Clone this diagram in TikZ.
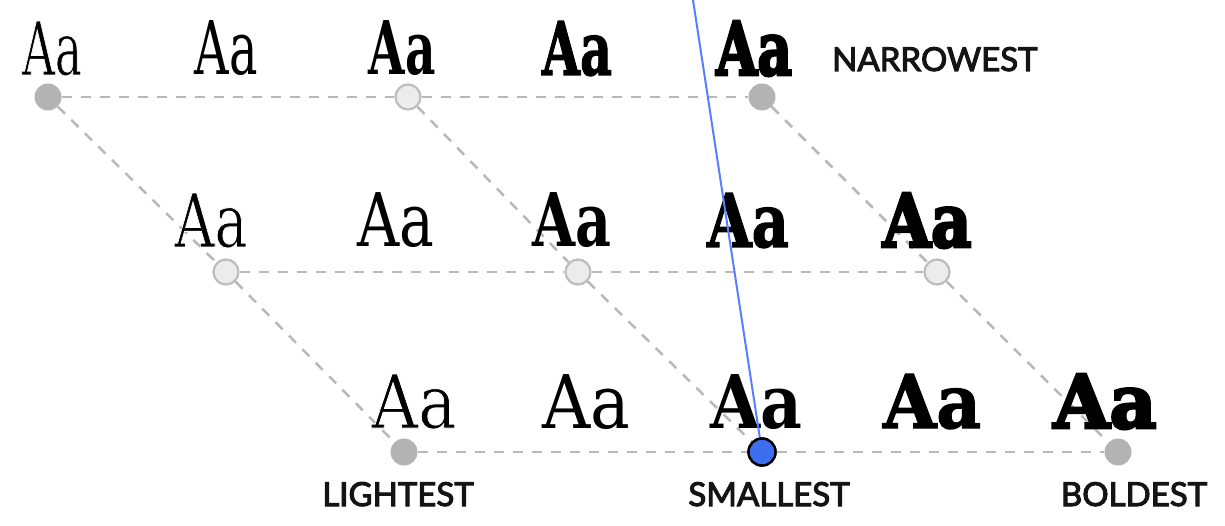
\documentclass[tikz,border=0pt]{standalone}
\usepackage{fontspec}
\usepackage{graphicx}
\newfontfamily\fLight[FakeBold=1.2]{DejaVu Serif}
\newfontfamily\fReg{DejaVu Serif}
\newfontfamily\fSemi{DejaVu Serif}[UprightFont=* Bold]
\newfontfamily\fBold[FakeBold=1.8]{DejaVu Serif Bold}
\newfontfamily\fBlack[FakeBold=4]{DejaVu Serif Bold}
\newfontfamily\labfont[FakeBold=3.2]{Lato}
\definecolor{dashgray}{HTML}{B8B8B8}
\definecolor{dotgray}{HTML}{B3B3B3}
\definecolor{dotlight}{HTML}{ECECEC}
\definecolor{dotstroke}{HTML}{BDBDBD}
\definecolor{dotblue}{HTML}{3D6EF0}
\definecolor{lineblue}{HTML}{5A7DFF}
\newcommand{\lightAa}{\special{pdf:literal direct 1 G}Aa}
\tikzset{
  darkdot/.style={circle,fill=dotgray,draw=none,minimum size=27pt,inner sep=0pt},
  lightdot/.style={circle,fill=dotlight,draw=dotstroke,line width=2.2pt,minimum size=25pt,inner sep=0pt},
  bluedot/.style={circle,fill=dotblue,draw=black,line width=2.4pt,minimum size=27pt,inner sep=0pt},
  grid/.style={draw=dashgray,line width=2.5pt,dash pattern=on 10pt off 9pt},
  blueline/.style={draw=lineblue,line width=2pt},
  aa/.style={anchor=base,inner sep=0pt,font=\fontsize{74}{80}\selectfont},
  lab/.style={inner sep=0pt,font=\labfont\fontsize{33}{36}\selectfont,text=black!92}
}
\begin{document}
\begin{tikzpicture}[x=1pt,y=-1pt]
\useasboundingbox (0,0) rectangle (1225,526);
% dots
\node[darkdot]  (d11) at (48,97) {};
\node[lightdot] (d12) at (408,97) {};
\node[darkdot]  (d13) at (762,97) {};
\node[lightdot] (d21) at (226,272) {};
\node[lightdot] (d22) at (578,272) {};
\node[lightdot] (d23) at (937,272) {};
\node[darkdot]  (d31) at (404,452) {};
\node[bluedot]  (d32) at (762,452) {};
\node[darkdot]  (d33) at (1118,452) {};
% grid
\draw[grid] (d11) -- (d12);
\draw[grid] (d12) -- (d13);
\draw[grid] (d21) -- (d22);
\draw[grid] (d22) -- (d23);
\draw[grid] (d31) -- (d32);
\draw[grid] (d32) -- (d33);
\draw[grid] (d11) -- (d21);
\draw[grid] (d21) -- (d31);
\draw[grid] (d12) -- (d22);
\draw[grid] (d22) -- (d32);
\draw[grid] (d13) -- (d23);
\draw[grid] (d23) -- (d33);
% row 1
\node[aa] (a11) at (52,75)  {\resizebox{60pt}{\height}{\fLight\lightAa}};
\node[aa] (a12) at (226,75) {\resizebox{63pt}{\height}{\fReg Aa}};
\node[aa] (a13) at (402,75) {\resizebox{67pt}{\height}{\fSemi Aa}};
\node[aa] (a14) at (577,75) {\resizebox{70pt}{\height}{\fBold Aa}};
\node[aa] (a15) at (754,75) {\resizebox{76pt}{\height}{\fBlack Aa}};
% row 2
\node[aa] (a21) at (211,247) {\resizebox{73pt}{\height}{\fLight\lightAa}};
\node[aa] (a22) at (396,247) {\resizebox{77pt}{\height}{\fReg Aa}};
\node[aa] (a23) at (572,247) {\resizebox{79pt}{\height}{\fSemi Aa}};
\node[aa] (a24) at (748,247) {\resizebox{82pt}{\height}{\fBold Aa}};
\node[aa] (a25) at (927,247) {\resizebox{89pt}{\height}{\fBlack Aa}};
% row 3
\node[aa] (a31) at (414,428) {\resizebox{85pt}{\height}{\fLight\lightAa}};
\node[aa] (a32) at (586,428) {\resizebox{88pt}{\height}{\fReg Aa}};
\node[aa] (a33) at (756,428) {\resizebox{92pt}{\height}{\fSemi Aa}};
\node[aa] (a34) at (932,428) {\resizebox{98pt}{\height}{\fBold Aa}};
\node[aa] (a35) at (1105,428) {\resizebox{103pt}{\height}{\fBlack Aa}};
% labels
\node[lab,anchor=base west] (narrow) at (832,71) {NARROWEST};
\node[lab,anchor=base] (light) at (398,506) {LIGHTEST};
\node[lab,anchor=base] (small) at (769,506) {SMALLEST};
\node[lab,anchor=base] (bold) at (1134,506) {BOLDEST};
% blue indicator
\coordinate (top) at (693,0);
\draw[blueline] (top) -- (d32);
\node[bluedot] at (d32) {};
\end{tikzpicture}
\end{document}
